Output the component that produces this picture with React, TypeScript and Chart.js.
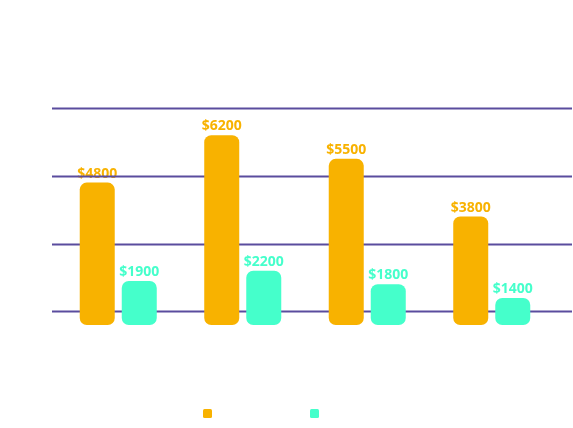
import React, { useEffect, useRef } from "react";
import { Chart, registerables } from "chart.js";

Chart.register(...registerables);

// Quarterly figures, two series per quarter
const categories = ["Q1", "Q2", "Q3", "Q4"];
const seriesNames = ["Ventas", "Gastos"];
const salesValues = [4800, 6200, 5500, 3800];
const costValues = [1900, 2200, 1800, 1400];
const gridValues = [1000, 3000, 5000, 7000];
const yMin = 600;
const yMax = 7000;

const ORANGE = "#f8b200";
const MINT = "#45ffcb";
const GRID = "#5a4c9e";
const LABEL_FONT = "bold 14px 'Open Sans', 'DejaVu Sans', sans-serif";

// Value labels above each bar ("$4800" ...), drawn before the grid lines
const valueLabels = {
  id: "valueLabels",
  beforeDatasetsDraw(chart: any) {
    const ctx = chart.ctx;
    ctx.save();
    ctx.font = LABEL_FONT;
    ctx.textAlign = "center";
    ctx.textBaseline = "alphabetic";
    chart.data.datasets.forEach((ds: any, di: number) => {
      const meta = chart.getDatasetMeta(di);
      meta.data.forEach((bar: any, i: number) => {
        ctx.fillStyle = ds.backgroundColor;
        ctx.fillText("$" + ds.data[i], bar.x, bar.y - 5);
      });
    });
    ctx.restore();
  },
};

// Horizontal guide lines spanning past the plot area
const guideLines = {
  id: "guideLines",
  beforeDatasetsDraw(chart: any) {
    const ctx = chart.ctx;
    const y = chart.scales.y;
    const left = chart.chartArea.left - 4;
    const right = chart.width - 1;
    ctx.save();
    ctx.strokeStyle = GRID;
    ctx.lineWidth = 1.8;
    gridValues.forEach((v) => {
      const py = Math.round(y.getPixelForValue(v)) + 0.5;
      ctx.beginPath();
      ctx.moveTo(left, py);
      ctx.lineTo(right, py);
      ctx.stroke();
    });
    ctx.restore();
  },
};

// Small colour squares under the plot, one per series
const swatchLegend = {
  id: "swatchLegend",
  afterDraw(chart: any) {
    const ctx = chart.ctx;
    const cx = chart.width / 2;
    const top = chart.height - 19;
    const offsets = [-83.5, 23.5];
    ctx.save();
    chart.data.datasets.forEach((ds: any, i: number) => {
      ctx.fillStyle = ds.backgroundColor;
      ctx.beginPath();
      ctx.roundRect(cx + offsets[i], top, 9, 9, 1.5);
      ctx.fill();
    });
    ctx.restore();
  },
};

export default function App() {
  const ref = useRef<HTMLCanvasElement | null>(null);

  useEffect(() => {
    if (!ref.current) return;
    const barStyle = {
      borderRadius: 7,
      borderSkipped: false,
      borderWidth: 0,
      base: yMin,
      categoryPercentage: 0.675,
      barPercentage: 0.833,
    };
    const chart = new Chart(ref.current, {
      type: "bar",
      data: {
        labels: categories,
        datasets: [
          { label: seriesNames[0], data: salesValues, backgroundColor: ORANGE, ...barStyle },
          { label: seriesNames[1], data: costValues, backgroundColor: MINT, ...barStyle },
        ],
      },
      options: {
        responsive: false,
        animation: false,
        devicePixelRatio: 1,
        layout: { padding: { left: 56, right: 19, top: 108, bottom: 103 } },
        plugins: {
          legend: { display: false },
          tooltip: { enabled: false },
        },
        scales: {
          x: { display: false },
          y: { display: false, min: yMin, max: yMax },
        },
      },
      plugins: [valueLabels, guideLines, swatchLegend],
    } as any);
    return () => chart.destroy();
  }, []);

  return (
    <div style={{ position: "absolute", left: 0, top: 0, width: 573, height: 428, background: "#fff" }}>
      <canvas ref={ref} width={573} height={428} style={{ display: "block" }} />
    </div>
  );
}
